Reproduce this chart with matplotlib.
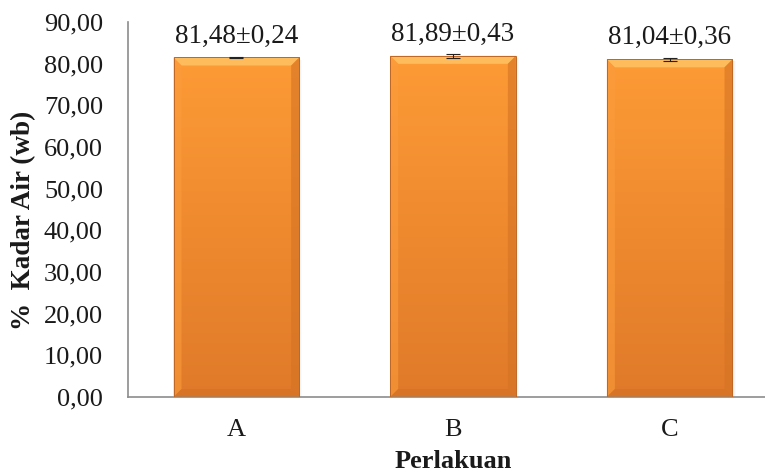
import numpy as np
import matplotlib
matplotlib.use("Agg")
import matplotlib.pyplot as plt
from matplotlib.patches import Polygon
from matplotlib.colors import LinearSegmentedColormap

# data
categories = ["A", "B", "C"]
kadar_air = [81.48, 81.89, 81.04]
std_dev = [0.24, 0.43, 0.36]
value_labels = ["81,48±0,24", "81,89±0,43", "81,04±0,36"]
y_ticks = [0, 10, 20, 30, 40, 50, 60, 70, 80, 90]

W, H = 765, 474
fig = plt.figure(figsize=(W / 100, H / 100), dpi=100)
# axes box in pixels: left 128, right 778, bottom 397, top 22
ax = fig.add_axes([128 / W, (H - 397) / H, 650 / W, 375 / H])

plt.rcParams["font.family"] = ["Liberation Serif", "DejaVu Serif"]
serif = ["Liberation Serif", "DejaVu Serif"]

x = np.arange(len(categories))
bar_w = 0.58
bars = ax.bar(x, kadar_air, width=bar_w, color="none", edgecolor="none", zorder=2)
ax.set_xlim(-0.5, 2.5)
ax.set_ylim(0, 90)

# vertical gradient for the bar body
grad_cmap = LinearSegmentedColormap.from_list(
    "bar_grad", ["#e07a2a", "#ef8a2f", "#fd9b36"])
px_x = 3.0 / 650   # data units per pixel (x)
px_y = 90.0 / 375  # data units per pixel (y)
bev = 8

for rect in bars:
    x0, y0 = rect.get_x(), rect.get_y()
    w, h = rect.get_width(), rect.get_height()
    x1, y1 = x0 + w, y0 + h
    # soft shadow on the right side
    for i, a in enumerate([0.16, 0.09, 0.04]):
        ax.add_patch(plt.Rectangle((x1 + i * px_x, y0), px_x, h - 2 * px_y,
                                   color="#808080", alpha=a, lw=0, zorder=1))
    grad = np.linspace(0, 1, 256).reshape(-1, 1)
    im = ax.imshow(grad, cmap=grad_cmap, aspect="auto", origin="lower",
                   extent=(x0, x1, y0, y1), zorder=2, interpolation="bilinear")
    im.set_clip_path(rect)
    bx, by = bev * px_x, bev * px_y
    # bevels: top, left, right, bottom
    ax.add_patch(Polygon([(x0, y1), (x1, y1), (x1 - bx, y1 - by), (x0 + bx, y1 - by)],
                         closed=True, facecolor="#ffc062", edgecolor="none", alpha=0.9, zorder=3))
    ax.add_patch(Polygon([(x0, y0), (x0, y1), (x0 + bx, y1 - by), (x0 + bx, y0 + by)],
                         closed=True, facecolor="#fb9c3c", edgecolor="none", alpha=0.6, zorder=3))
    ax.add_patch(Polygon([(x1, y0), (x1, y1), (x1 - bx, y1 - by), (x1 - bx, y0 + by)],
                         closed=True, facecolor="#d47324", edgecolor="none", alpha=0.6, zorder=3))
    ax.add_patch(Polygon([(x0, y0), (x1, y0), (x1 - bx, y0 + by), (x0 + bx, y0 + by)],
                         closed=True, facecolor="#cf6f22", edgecolor="none", alpha=0.5, zorder=3))
    ax.add_patch(plt.Rectangle((x0, y0), w, h, facecolor="none",
                               edgecolor="#c06624", lw=0.7, zorder=3))

# error bars
ax.errorbar(x, kadar_air, yerr=std_dev, fmt="none", ecolor="#222222",
            elinewidth=0.8, capsize=5, capthick=0.8, zorder=4)

# value labels above the bars
for xi, v, lab in zip(x, kadar_air, value_labels):
    ax.annotate(lab, (xi, v), xytext=(0, 15.5), textcoords="offset points",
                ha="center", va="center", fontsize=19.5, family=serif, color="#1a1a1a")

ax.set_xticks(x)
ax.set_xticklabels(categories, fontsize=19, family=serif)
ax.set_yticks(y_ticks)
ax.set_yticklabels([f"{t:.2f}".replace(".", ",") for t in y_ticks],
                   fontsize=19, family=serif)
ax.tick_params(axis="both", length=0, colors="#1a1a1a")
ax.tick_params(axis="x", pad=16)
ax.tick_params(axis="y", pad=18)

for s in ["top", "right"]:
    ax.spines[s].set_visible(False)
for s in ["left", "bottom"]:
    ax.spines[s].set_color("#8c8c8c")
    ax.spines[s].set_linewidth(1.2)

fig.text(24 / W, 1 - 220 / H, "%  Kadar Air (wb)", rotation=90, ha="center",
         va="center", fontsize=19.5, fontweight="bold", family=serif, color="#1a1a1a")
fig.text(453 / W, 1 - 462 / H, "Perlakuan", ha="center", va="center",
         fontsize=19, fontweight="bold", family=serif, color="#1a1a1a")

fig.savefig("out.png", dpi=100)
